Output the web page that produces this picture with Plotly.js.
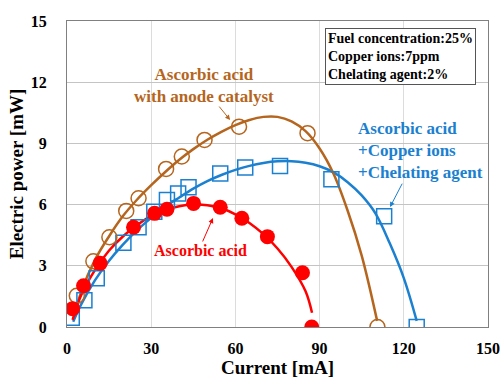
<!DOCTYPE html>
<html>
<head>
<meta charset="utf-8">
<script src="https://cdn.plot.ly/plotly-3.0.1.min.js"></script>
<style>html,body{margin:0;padding:0;background:#fff;}#chart{width:500px;height:378px;}</style>
</head>
<body>
<div id="chart"></div>
<script>
// Measured points
const redX = [2.0, 5.9, 11.8, 23.7, 31.2, 35.6, 45.1, 54.6, 62.3, 71.4, 83.9, 87.2];
const redY = [0.9, 2.02, 3.12, 4.89, 5.57, 5.77, 6.06, 5.87, 5.33, 4.43, 2.66, 0];
const brownX = [3.5, 9.4, 15.1, 21.1, 25.5, 35.3, 40.9, 49.0, 61.3, 85.7, 110.6];
const brownY = [1.53, 3.22, 4.4, 5.69, 6.31, 7.75, 8.36, 9.17, 9.82, 9.5, 0];
const blueX = [1.7, 6.2, 10.6, 20.1, 25.5, 31.1, 35.6, 39.6, 43.3, 54.6, 63.5, 75.9, 94.2, 113.0, 124.6];
const blueY = [0.45, 1.31, 2.39, 4.13, 4.89, 5.65, 6.23, 6.55, 6.85, 7.53, 7.82, 7.89, 7.24, 5.43, 0];

// Fitted trend curves
const redFitX = [2.0, 5, 10, 15, 20, 25, 30, 35, 40, 45, 50, 55, 60, 65, 70, 75, 80, 85, 87.3];
const redFitY = [0.35, 1.55, 2.8, 3.75, 4.45, 5.0, 5.45, 5.73, 5.92, 6.0, 5.97, 5.82, 5.52, 5.1, 4.55, 3.85, 2.95, 1.75, 0.7];
const brownFitX = [3, 5, 10, 15, 20, 25, 30, 35, 40, 45, 50, 55, 60, 65, 70, 75, 80, 85, 90, 95, 100, 105, 110.5];
const brownFitY = [0.75, 1.7, 3.3, 4.45, 5.45, 6.25, 6.95, 7.6, 8.2, 8.72, 9.18, 9.57, 9.9, 10.15, 10.3, 10.3, 10.08, 9.6, 8.75, 7.5, 5.7, 3.5, 0.3];
const blueFitX = [2.2, 5, 10, 15, 20, 25, 30, 35, 40, 45, 50, 55, 60, 65, 70, 75, 80, 85, 90, 95, 100, 105, 110, 115, 120, 124.6];
const blueFitY = [0.26, 1.1, 2.3, 3.25, 4.05, 4.75, 5.35, 5.9, 6.35, 6.78, 7.15, 7.45, 7.7, 7.9, 8.04, 8.12, 8.13, 8.05, 7.88, 7.58, 7.1, 6.45, 5.55, 4.1, 2.4, 0.3];

const xTicks = [0, 30, 60, 90, 120, 150];
const yTicks = [0, 3, 6, 9, 12, 15];

const RED = '#ff0000', BROWN = '#b5651d', BLUE = '#1b80d0';
const SERIF = 'Liberation Serif, Times New Roman, serif';

const traces = [
  {x: blueFitX, y: blueFitY, mode: 'lines', line: {color: BLUE, width: 2.5, shape: 'spline'}, hoverinfo: 'skip'},
  {x: brownFitX, y: brownFitY, mode: 'lines', line: {color: BROWN, width: 2.5, shape: 'spline'}, hoverinfo: 'skip'},
  {x: redFitX, y: redFitY, mode: 'lines', line: {color: RED, width: 2.5, shape: 'spline'}, hoverinfo: 'skip'},
  {x: blueX, y: blueY, mode: 'markers', marker: {symbol: 'square-open', size: 15, color: BLUE, line: {width: 1.5, color: BLUE}}},
  {x: brownX, y: brownY, mode: 'markers', marker: {symbol: 'circle-open', size: 15, color: BROWN, line: {width: 1.5, color: BROWN}}},
  {x: redX, y: redY, mode: 'markers', marker: {symbol: 'circle', size: 15, color: RED}}
];

function arrow(x, y, ax, ay, color) {
  return {x: x, y: y, ax: ax, ay: ay, xref: 'x', yref: 'y', axref: 'x', ayref: 'y', text: '',
    showarrow: true, arrowhead: 2, arrowsize: 1, arrowwidth: 1, arrowcolor: color};
}

const layout = {
  width: 500, height: 378,
  margin: {l: 67, r: 12, t: 21, b: 51},
  paper_bgcolor: '#fff', plot_bgcolor: '#fff',
  showlegend: false,
  font: {family: SERIF, color: '#000'},
  xaxis: {
    range: [0, 150], tickvals: xTicks, ticktext: xTicks.map(String),
    showgrid: true, gridcolor: '#dcdcdc', gridwidth: 1,
    zeroline: false, showline: true, linecolor: '#808080', linewidth: 1, mirror: true,
    ticks: '', ticklabelstandoff: 7,
    tickfont: {family: SERIF, size: 16, weight: 'bold', color: '#000'},
    title: {text: 'Current [mA]', font: {family: SERIF, size: 19, weight: 'bold', color: '#000'}, standoff: 2}
  },
  yaxis: {
    range: [0, 15], tickvals: yTicks, ticktext: yTicks.map(String),
    showgrid: true, gridcolor: '#c4c4c4', gridwidth: 1,
    zeroline: false, showline: true, linecolor: '#808080', linewidth: 1, mirror: true,
    ticks: '', ticklabelstandoff: 16,
    tickfont: {family: SERIF, size: 16, weight: 'bold', color: '#000'},
    title: {text: 'Electric power [mW]', font: {family: SERIF, size: 19, weight: 'bold', color: '#000'}, standoff: 2}
  },
  annotations: [
    {x: 0.613, y: 0.977, xref: 'paper', yref: 'paper', xanchor: 'left', yanchor: 'top', align: 'left',
     text: 'Fuel concentration:25%<br>Copper ions:7ppm<br>Chelating agent:2%', showarrow: false,
     font: {family: SERIF, size: 14, weight: 'bold', color: '#000'},
     bordercolor: '#555', borderwidth: 1, borderpad: 2, bgcolor: '#fff'},
    {x: 48.8, y: 11.86, xref: 'x', yref: 'y', text: 'Ascorbic acid<br>with anode catalyst', showarrow: false,
     font: {family: SERIF, size: 17, weight: 'bold', color: BROWN}, align: 'center'},
    {x: 103.0, y: 8.63, xref: 'x', yref: 'y', xanchor: 'left', align: 'left',
     text: 'Ascorbic acid<br>+Copper ions<br>+Chelating agent', showarrow: false,
     font: {family: SERIF, size: 17, weight: 'bold', color: BLUE}},
    {x: 47.7, y: 3.73, xref: 'x', yref: 'y', text: 'Ascorbic acid', showarrow: false,
     font: {family: SERIF, size: 16, weight: 'bold', color: RED}},
    arrow(58.1, 10.15, 53.8, 10.88, BROWN),
    arrow(115.1, 5.88, 119.7, 7.1, BLUE),
    arrow(52.0, 5.34, 48.1, 4.12, RED)
  ]
};

Plotly.newPlot('chart', traces, layout, {displayModeBar: false, staticPlot: true});
</script>
</body>
</html>
